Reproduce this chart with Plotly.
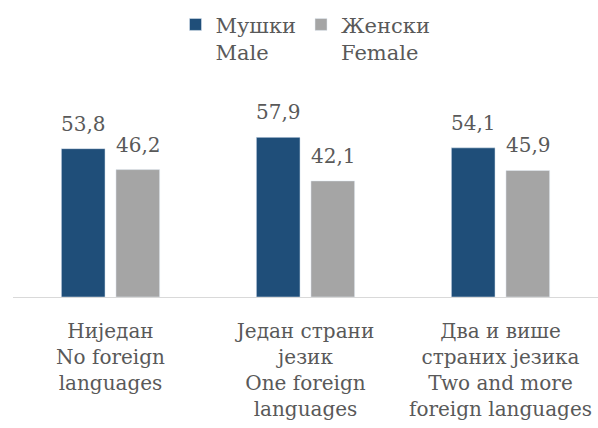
import plotly.graph_objects as go

categories = [
    "Ниједан<br>No foreign<br>languages",
    "Један страни<br>језик<br>One foreign<br>languages",
    "Два и више<br>страних језика<br>Two and more<br>foreign languages",
]
male = [53.8, 57.9, 54.1]
female = [46.2, 42.1, 45.9]
male_name = "Мушки<br>Male"
female_name = "Женски<br>Female"

FONT = "DejaVu Serif"
TXT = "#595959"


def fmt(v):
    return f"{v:.1f}".replace(".", ",")


fig = go.Figure()
fig.add_trace(go.Bar(x=categories, y=male, name=male_name, marker_color="#1F4E79"))
fig.add_trace(go.Bar(x=categories, y=female, name=female_name, marker_color="#A5A5A5"))

for series, shift in ((male, -27.5), (female, 27.5)):
    for cat, v in zip(categories, series):
        fig.add_annotation(x=cat, y=v, xref="x", yref="y", text=fmt(v), showarrow=False,
                           xshift=shift, yanchor="bottom", yshift=11,
                           font=dict(size=20, color=TXT, family=FONT))

fig.update_layout(
    width=598, height=428,
    margin=dict(l=13, r=0, t=104, b=131),
    paper_bgcolor="white", plot_bgcolor="white",
    font=dict(family=FONT, color=TXT, size=20),
    barmode="group", bargap=0.44, bargroupgap=0.2,
    showlegend=True,
    legend=dict(orientation="h", x=0.5, xanchor="center", y=0.99, yanchor="top",
                yref="container", valign="top", font=dict(size=21, color=TXT, family=FONT),
                itemwidth=30, tracegroupgap=0),
    xaxis=dict(showline=True, linecolor="#D9D9D9", linewidth=1, ticks="",
               ticklabelstandoff=16,
               tickfont=dict(size=20, color=TXT, family=FONT), showgrid=False),
    yaxis=dict(range=[0, 70], visible=False, showgrid=False),
)
fig.write_html("out.html")
